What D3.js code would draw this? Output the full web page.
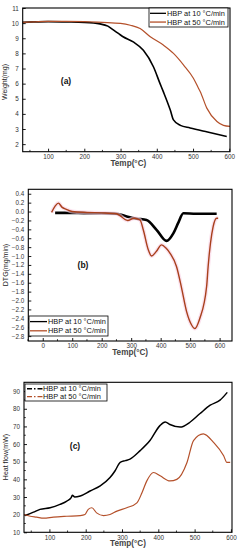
<!DOCTYPE html>
<html><head><meta charset="utf-8">
<script src="https://cdn.jsdelivr.net/npm/d3@7"></script>
<style>body{margin:0;background:#fff}svg{display:block;font-family:"Liberation Sans",Arial,sans-serif}</style>
</head><body><svg id="c" width="240" height="550"></svg>
<script>
// Panel (a) TGA
const tgaT10 = [30,60,100,150,200,243,265,280,295,307,335,363,391,409,418,437,446,465,492,540,593];
const tgaW10 = [10.05,10.08,10.1,10.08,10.05,9.95,9.8,9.55,9.3,9.1,8.76,8.2,7.1,6.0,5.47,4.27,3.6,3.24,3.07,2.8,2.51];
const tgaT50 = [30,60,100,150,200,250,300,327,354,382,418,446,474,501,515,520,538,566,584,602];
const tgaW50 = [10.05,10.08,10.12,10.12,10.1,10.05,9.98,9.86,9.64,9.1,8.55,8.0,7.23,6.36,5.7,5.47,4.38,3.5,3.24,3.17];
// Panel (b) DTG
const dtgT10 = [42,80,120,160,200,250,285,319,352,386,420,443,460,477,520,560,590];
const dtgD10 = [-0.03,-0.03,-0.03,-0.04,-0.04,-0.05,-0.11,-0.16,-0.19,-0.41,-0.66,-0.49,-0.25,-0.04,-0.05,-0.05,-0.05];
const dtgT50 = [30,42,53,65,80,100,150,200,250,288,310,330,341,358,369,385,403,418,432,454,471,488,505,516,533,556,561,578,590,595];
const dtgD50 = [-0.02,0.12,0.19,0.1,0.05,0.0,-0.02,-0.03,-0.05,-0.2,-0.15,-0.19,-0.41,-0.86,-1.0,-0.9,-0.75,-0.82,-0.94,-1.24,-1.72,-2.25,-2.55,-2.63,-2.4,-1.68,-1.24,-0.34,-0.15,-0.15];
// Panel (c) heat flow
const hfT10 = [33,56,74,102,129,148,160,163,170,185,212,240,267,281,295,309,322,350,377,405,419,432,460,488,515,543,570,590];
const hfH10 = [19.5,21.4,23,23.9,25.8,27.7,29.6,31,30,30.6,33.4,36.3,41,44.9,49.6,50.6,51.5,56.3,62,70.6,72.5,71.1,69.6,72.5,77.3,82,84.9,89.3];
const hfT50 = [30,47,65,84,111,148,185,198,207,217,230,249,267,286,313,341,355,368,387,405,432,451,479,497,524,552,580,589,598];
const hfH50 = [20.1,19.1,18.6,18,18.6,19.1,19.5,20.1,23,23.9,21,19.5,20.1,22,23.9,26.7,32.4,39,43.9,42,39.1,40,49.6,62,65.8,61,53.4,49.6,49.6];
const xTicks = [100,200,300,400,500,600];
const xTicksB = [0,100,200,300,400,500,600];
const legendLabels = ["HBP at 10 °C/min","HBP at 50 °C/min"];
const colors = ["#000000","#b4502a"];

const svg = d3.select("#c");

function panel(cfg){
  const x = d3.scaleLinear().domain(cfg.xd).range([cfg.l, cfg.r]);
  const y = d3.scaleLinear().domain(cfg.yd).range([cfg.b, cfg.t]);
  const g = svg.append("g");
  cfg.xMinor.forEach(v=>{ g.append("line").attr("x1",x(v)).attr("x2",x(v)).attr("y1",cfg.b).attr("y2",cfg.b-1.8).attr("stroke","#000").attr("stroke-width",0.8); });
  cfg.yMinor.forEach(v=>{ g.append("line").attr("x1",cfg.l).attr("x2",cfg.l+1.8).attr("y1",y(v)).attr("y2",y(v)).attr("stroke","#000").attr("stroke-width",0.8); });
  const xa = d3.axisBottom(x).tickValues(cfg.xt).tickSizeInner(-3).tickSizeOuter(0).tickPadding(4).tickFormat(d3.format("d"));
  const ya = d3.axisLeft(y).tickValues(cfg.yt).tickSizeInner(-3).tickSizeOuter(0).tickPadding(4).tickFormat(cfg.yf);
  const gx = g.append("g").attr("transform",`translate(0,${cfg.b})`).call(xa);
  const gy = g.append("g").attr("transform",`translate(${cfg.l},0)`).call(ya);
  [gx,gy].forEach(a=>{ a.select(".domain").remove(); a.selectAll("line").attr("stroke-width",0.9); a.selectAll("text").attr("font-size",6.3).attr("fill","#333"); });
  gx.selectAll("text").attr("dy","0.55em");
  cfg.series.forEach((s,i)=>{
    const line = d3.line().x((d,j)=>x(s.t[j])).y((d,j)=>y(s.v[j])).curve(d3.curveMonotoneX);
    if(s.halo) g.append("path").datum(s.v).attr("d",line).attr("fill","none").attr("stroke","#f8cfe3").attr("stroke-width",4).attr("opacity",0.6);
    g.append("path").datum(s.v).attr("d",line).attr("fill","none").attr("stroke",s.c).attr("stroke-width",s.w).attr("stroke-linejoin","round");
  });
  g.append("rect").attr("x",cfg.l).attr("y",cfg.t).attr("width",cfg.r-cfg.l).attr("height",cfg.b-cfg.t).attr("fill","none").attr("stroke","#000").attr("stroke-width",1.1);
  g.append("text").attr("x",(cfg.l+cfg.r)/2+cfg.xtOff).attr("y",cfg.b+14).attr("text-anchor","middle").attr("font-size",8.2).attr("font-weight","bold").attr("fill","#444").text("Temp(°C)");
  g.append("text").attr("transform",`translate(${cfg.ytx},${cfg.ytY}) rotate(-90)`).attr("text-anchor","middle").attr("font-size",7).attr("fill","#222").text(cfg.ytitle);
  g.append("text").attr("x",cfg.lab[0]).attr("y",cfg.lab[1]).attr("text-anchor","middle").attr("font-size",8.5).attr("font-weight","bold").attr("fill","#111").text(cfg.label);
  const L = cfg.leg;
  g.append("rect").attr("x",L.x).attr("y",L.y).attr("width",L.w).attr("height",L.h).attr("fill","#fff").attr("stroke","#000").attr("stroke-width",0.8);
  legendLabels.forEach((t,i)=>{
    const yy = L.y + L.h*(i===0?0.28:0.74);
    g.append("line").attr("x1",L.x+L.lx0).attr("x2",L.x+L.lx1).attr("y1",yy).attr("y2",yy).attr("stroke",colors[i]).attr("stroke-width",1.3).attr("stroke-dasharray",L.dash?"5,2,1.5,2":null);
    g.append("text").attr("x",L.x+L.tx).attr("y",yy).attr("dy","0.35em").attr("font-size",7.4).attr("fill","#111").text(t);
  });
}

panel({l:22.7,r:230,t:8,b:151.7,xd:[30,602],yd:[1.5,11],xt:xTicks,yt:[2,3,4,5,6,7,8,9,10,11],yf:d3.format("d"),
  xMinor:[50,150,250,350,450,550],yMinor:[],
  series:[{t:tgaT10,v:tgaW10,c:colors[0],w:1.6},{t:tgaT50,v:tgaW50,c:colors[1],w:1.2}],
  xtOff:2,ytx:7,ytY:82,ytitle:"Weight(mg)",label:"(a)",lab:[66,84],
  leg:{x:149,y:8,w:79,h:19,lx0:1,lx1:17,tx:18}});

panel({l:28.3,r:232,t:189.3,b:341,xd:[-49,642],yd:[-2.91,0.5],xt:xTicksB,yt:[0.4,0.2,0,-0.2,-0.4,-0.6,-0.8,-1.0,-1.2,-1.4,-1.6,-1.8,-2.0,-2.2,-2.4,-2.6,-2.8],yf:d3.format(".1f"),
  xMinor:[-50,50,150,250,350,450,550],yMinor:[],
  series:[{t:dtgT10,v:dtgD10,c:colors[0],w:2.6},{t:dtgT50,v:dtgD50,c:"#a8401c",w:1.4,halo:true}],
  xtOff:0,ytx:8,ytY:265,ytitle:"DTG(mg/min)",label:"(b)",lab:[83,268],
  leg:{x:29,y:316,w:79,h:20,lx0:1,lx1:18,tx:19}});

panel({l:24,r:232,t:382.3,b:532.3,xd:[30,603],yd:[10,95],xt:xTicks,yt:[10,20,30,40,50,60,70,80,90],yf:d3.format("d"),
  xMinor:[50,150,250,350,450,550],yMinor:[15,25,35,45,55,65,75,85],
  series:[{t:hfT10,v:hfH10,c:colors[0],w:1.5},{t:hfT50,v:hfH50,c:colors[1],w:1.2}],
  xtOff:0,ytx:8,ytY:457,ytitle:"Heat flow(mW)",label:"(c)",lab:[75,449],
  leg:{x:25,y:384,w:82,h:17,lx0:2,lx1:18,tx:18,dash:true}});
</script></body></html>
